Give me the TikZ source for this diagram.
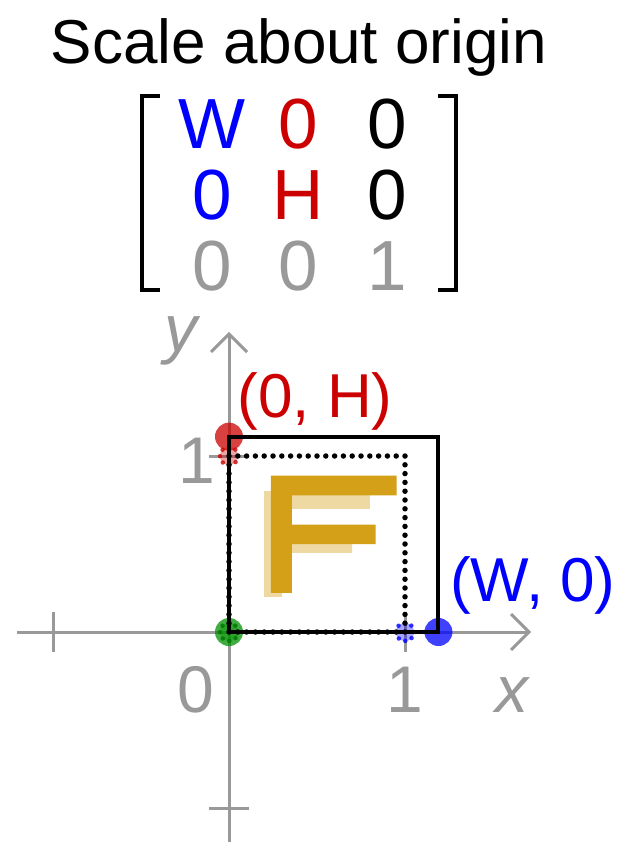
\documentclass[tikz,border=0pt]{standalone}
\usepackage{fontspec}
\setmainfont{Liberation Sans}
\definecolor{axgray}{RGB}{153,153,153}
\definecolor{mblue}{RGB}{0,0,255}
\definecolor{mred}{RGB}{204,0,0}
\definecolor{fgold}{RGB}{212,160,23}
\definecolor{mgreen}{RGB}{0,145,0}
\begin{document}
\begin{tikzpicture}[x=1pt,y=-1pt]
\useasboundingbox (0,0) rectangle (627,842);
\tikzset{
  axisline/.style={draw=axgray, line width=3pt},
  lbl/.style={inner sep=0pt, anchor=base, font=\fontsize{66}{66}\selectfont},
  ptlbl/.style={inner sep=0pt, anchor=base, font=\fontsize{62}{62}\selectfont},
  mat/.style={inner sep=0pt, anchor=base, font=\fontsize{71}{71}\selectfont},
  bracket/.style={draw=black, line width=3.5pt},
  bigdot/.style={fill opacity=0.75, draw=none},
  smalldot/.style={line width=4.5pt, dash pattern=on 0pt off 7.07pt, line cap=round, fill opacity=0.35, draw opacity=0.8},
  Fshape/.style={fill=fgold, draw=none}
}
% title
\node[inner sep=0pt, anchor=base, font=\fontsize{62}{62}\selectfont] (title) at (299,64) {Scale about origin};
% matrix
\draw[bracket] (160,96) -- (142,96) -- (142,290) -- (160,290);
\draw[bracket] (438,96) -- (456,96) -- (456,290) -- (438,290);
\node[mat, text=mblue] (m11) at (212,149) {W};
\node[mat, text=mred] (m12) at (298,149) {0};
\node[mat] (m13) at (387,149) {0};
\node[mat, text=mblue] (m21) at (212,219) {0};
\node[mat, text=mred] (m22) at (298,219) {H};
\node[mat] (m23) at (387,219) {0};
\node[mat, text=axgray] (m31) at (212,290) {0};
\node[mat, text=axgray] (m32) at (298,290) {0};
\node[mat, text=axgray] (m33) at (387,290) {1};
% axes
\draw[axisline] (17,632) -- (528,632);
\draw[axisline] (511,614) -- (529,632) -- (511,650);
\draw[axisline] (229,842) -- (229,334);
\draw[axisline] (211,352) -- (229,334) -- (247,352);
\draw[axisline] (53,612) -- (53,652);
\draw[axisline] (405,612) -- (405,652);
\draw[axisline] (209,456) -- (249,456);
\draw[axisline] (209,808) -- (249,808);
% axis labels
\node[lbl, text=axgray] (l0) at (196,712) {0};
\node[lbl, text=axgray] (l1x) at (405,712) {1};
\node[lbl, text=axgray] (lx) at (512,712) {\itshape x};
\node[lbl, text=axgray] (ly) at (181,351) {\itshape y};
\node[lbl, text=axgray] (l1y) at (197,483) {1};
\node[ptlbl, text=mred] (lH) at (315,417) {(0, H)};
\node[ptlbl, text=mblue] (lW) at (533,601) {(W, 0)};
\begin{scope}[shift={(229,632)}, x=176pt, y=176pt]
  % original F (faint)
  \fill[Fshape, fill opacity=0.4] (0.2,0.2) -- (0.3,0.2) -- (0.3,0.45) -- (0.7,0.45) -- (0.7,0.55) -- (0.3,0.55) -- (0.3,0.7) -- (0.8,0.7) -- (0.8,0.8) -- (0.2,0.8) -- cycle;
  % dots
  \fill[bigdot, fill=mgreen] (0,0) circle[radius=14pt];
  \fill[bigdot, fill=mred] (0,1.11) circle[radius=14pt];
  \fill[bigdot, fill=mblue] (1.19,0) circle[radius=14pt];
  \filldraw[smalldot, draw=mblue, fill=mblue] (1,0) circle[radius=9pt];
  \filldraw[smalldot, draw=mred, fill=mred] (0,1) circle[radius=9pt];
  \filldraw[smalldot, draw=mgreen!80!black, fill=mgreen] (0,0) circle[radius=9pt];
  % unit square dotted
  \draw[line width=5.5pt, dash pattern=on 0pt off 8.8pt, line cap=round] (0,0) rectangle (1,1);
  % scaled rectangle
  \draw[line width=4pt] (0,0) rectangle (1.19,1.11);
  % scaled F
  \begin{scope}[xscale=1.19, yscale=1.11]
  \fill[Fshape] (0.2,0.2) -- (0.3,0.2) -- (0.3,0.45) -- (0.7,0.45) -- (0.7,0.55) -- (0.3,0.55) -- (0.3,0.7) -- (0.8,0.7) -- (0.8,0.8) -- (0.2,0.8) -- cycle;
  \end{scope}
\end{scope}
\end{tikzpicture}
\end{document}
